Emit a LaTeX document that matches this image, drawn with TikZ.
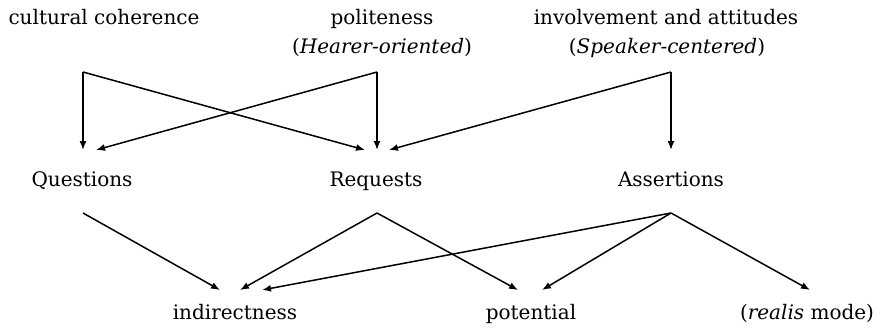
\documentclass[tikz,border=0pt]{standalone}
\usepackage{fontspec}
\setmainfont{DejaVu Serif}
\usetikzlibrary{arrows.meta}
\begin{document}
\begin{tikzpicture}[x=1pt,y=-1pt,
  lbl/.style={anchor=base,inner sep=0pt,font=\fontsize{20}{24}\selectfont},
  conn/.style={line width=1.5pt,-{Latex[length=9pt,width=7pt]}}]
\useasboundingbox (0,0) rectangle (880,329);
% top row
\node[lbl] (cc) at (104,25) {cultural coherence};
\node[lbl] (pol) at (382,25) {politeness};
\node[lbl] (polsub) at (382,54) {(\textit{Hearer-oriented})};
\node[lbl] (inv) at (666,25) {involvement and attitudes};
\node[lbl] (invsub) at (667,54) {(\textit{Speaker-centered})};
% middle row
\node[lbl] (q) at (82,186) {Questions};
\node[lbl] (r) at (376,186) {Requests};
\node[lbl] (a) at (671,186) {Assertions};
% bottom row
\node[lbl] (ind) at (235,319) {indirectness};
\node[lbl] (pot) at (531,319) {potential};
\node[lbl] (rea) at (807,319) {(\textit{realis} mode)};
% corners
\coordinate (ccC) at (83,72);
\coordinate (polC) at (377,72);
\coordinate (invC) at (671,72);
\coordinate (qC) at (83,213);
\coordinate (rC) at (377,213);
\coordinate (aC) at (671,213);
% tips
\coordinate (qT1) at (83,150);
\coordinate (qT2) at (96,150);
\coordinate (rT1) at (365,150);
\coordinate (rT2) at (377,150);
\coordinate (rT3) at (389,150);
\coordinate (aT1) at (671,150);
\coordinate (indT1) at (220,290);
\coordinate (indT2) at (240,290);
\coordinate (indT3) at (262,290);
\coordinate (potT1) at (518,290);
\coordinate (potT2) at (542,290);
\coordinate (reaT1) at (810,290);
% upper connectors
\draw[conn] (ccC) -- (qT1);
\draw[conn] (ccC) -- (rT1);
\draw[conn] (polC) -- (rT2);
\draw[conn] (polC) -- (qT2);
\draw[conn] (invC) -- (aT1);
\draw[conn] (invC) -- (rT3);
% lower connectors
\draw[conn] (qC) -- (indT1);
\draw[conn] (rC) -- (indT2);
\draw[conn] (rC) -- (potT1);
\draw[conn] (aC) -- (indT3);
\draw[conn] (aC) -- (potT2);
\draw[conn] (aC) -- (reaT1);
\end{tikzpicture}
\end{document}
